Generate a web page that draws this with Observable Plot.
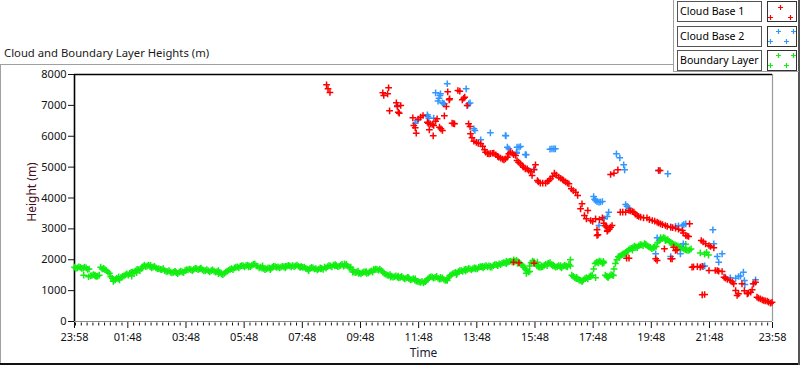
<!DOCTYPE html>
<html><head><meta charset="utf-8">
<script src="https://cdn.jsdelivr.net/npm/d3@7"></script>
<script src="https://cdn.jsdelivr.net/npm/@observablehq/plot@0.6"></script>
<style>
html,body{margin:0;padding:0;background:#fff;}
#wrap{position:relative;width:800px;height:365px;overflow:hidden;font-family:"Noto Sans",sans-serif;background:#fff;}
#wrap svg.plot{position:absolute;left:0;top:0;}
.ln{position:absolute;}
#title{position:absolute;left:4px;top:45px;font-size:11.3px;color:#1a1a1a;white-space:nowrap;}
.lgtext{position:absolute;left:677px;width:85px;height:21px;border:1px solid #555;background:#fff;font-size:10.6px;line-height:19px;padding-left:2px;box-sizing:border-box;color:#000;white-space:nowrap;overflow:hidden;}
.lgsw{position:absolute;left:767px;width:30px;height:21px;}
</style></head>
<body><div id="wrap"></div>
<script>
// ---- Data (time in minutes since 23:58, height in m) ----
const yTicks = [0,1000,2000,3000,4000,5000,6000,7000,8000];
const xTickLabels = ["23:58","01:48","03:48","05:48","07:48","09:48","11:48","13:48","15:48","17:48","19:48","21:48","23:58"];
const seriesNames = ["Cloud Base 1","Cloud Base 2","Boundary Layer"];
const seriesColors = ["#ff0000","#3296ff","#12ee12"];

// Boundary layer: regular 6-minute samples from 23:58
const blStepMin = 6;
const blHeights = [1760,1740,1750,1730,1740,1700,1490,1500,1470,1760,
1720,1650,1560,1400,1350,1380,1430,1480,1540,1560,
1600,1640,1680,1720,1830,1800,1780,1760,1740,1710,
1680,1650,1620,1600,1590,1580,1600,1610,1650,1670,
1680,1690,1710,1700,1670,1650,1640,1650,1630,1620,
1580,1520,1600,1660,1710,1740,1770,1790,1800,1810,
1800,1820,1860,1790,1760,1720,1700,1740,1760,1780,
1770,1760,1770,1790,1800,1810,1800,1790,1780,1760,
1700,1720,1740,1710,1700,1720,1760,1780,1800,1830,
1810,1790,1850,1820,1790,1760,1620,1600,1570,1580,
1600,1570,1640,1670,1690,1700,1600,1530,1490,1470,
1450,1440,1430,1410,1400,1390,1360,1340,1300,1270,
1250,1330,1420,1440,1430,1400,1380,1360,1350,1480,
1540,1590,1620,1650,1670,1680,1700,1710,1730,1750,
1770,1780,1770,1790,1810,1840,1870,1880,1900,1920,
1960,2000,1980,1900,1820,1700,1600,1900,1930,1800,
1760,1780,1850,1880,1840,1790,1780,1770,1790,1800,
1850,1500,1420,1380,1330,1350,1420,1450,1500,1880,
1920,1940,1900,1460,1480,1500,1880,2100,2150,2200,
2280,2350,2390,2420,2450,2480,2520,2450,2400,2380,
2430,2620,2680,2700,2650,2560,2500,2460,2420,2380,
2330,2300,2350];
// Boundary layer: interleaved samples (3 minutes after each of the above)
const blHeights2 = [1720,1770,1720,1760,1690,1480,1520,1460,1500,1700,
1680,1600,1450,1330,1400,1350,1460,1510,1500,1590,
1570,1690,1650,1780,1780,1830,1740,1790,1700,1690,
1710,1620,1650,1570,1620,1550,1630,1580,1680,1700,
1650,1720,1680,1730,1640,1680,1610,1670,1600,1650,
1540,1560,1630,1690,1680,1760,1740,1810,1770,1830,
1780,1850,1800,1740,1730,1680,1730,1710,1790,1750,
1740,1790,1740,1820,1770,1780,1830,1760,1750,1720,
1680,1750,1700,1670,1740,1690,1730,1810,1770,1800,
1780,1820,1790,1850,1740,1680,1580,1630,1540,1610,
1560,1610,1600,1700,1660,1650,1560,1500,1520,1440,
1480,1410,1460,1380,1430,1350,1390,1310,1280,1300,
1290,1380,1450,1400,1460,1370,1410,1330,1420,1510,
1570,1560,1650,1620,1700,1720,1670,1740,1700,1780,
1740,1810,1800,1760,1840,1810,1840,1910,1870,1950,
1930,1960,1940,1860,1760,1650,1800,1960,1870,1770,
1800,1820,1810,1910,1800,1760,1810,1740,1820,1770,
1800,1460,1390,1340,1300,1390,1380,1480,1700,1920,
1960,1880,1500,1430,1520,1700,2000,2120,2180,2240,
2320,2370,2440,2400,2490,2460,2480,2420,2360,2420,
2560,2660,2720,2640,2600,2530,2480,2440,2400,2350,
2310,2320];
// Boundary layer: additional scattered returns
const blExtraTimes = [19,29,43,60,91,80,118,128,157,208,260,297,359,388,404,435,466,483,508,538,557,574,586,602,617,652,668,689,703,724,755,769,788,807,827,842,858,873,891,914,932,939,955,963,976,988,1003,1015,1023,1036,1048,1065,1075,1081,1091,1100,1112,1124,1137,1151,1161,1178,1195,1209,1219,1234,1250,1261,1291,1300,1308,1304];
const blExtraHeights = [1500,1450,1480,1700,1450,1300,1470,1580,1820,1620,1720,1550,1770,1800,1680,1790,1760,1650,1700,1840,1870,1600,1560,1620,1680,1440,1470,1420,1380,1290,1430,1330,1520,1640,1700,1790,1760,1820,1950,1880,1560,1620,1920,1760,1870,1830,1810,1790,2000,1430,1310,1460,1420,1900,1950,1440,1490,2080,2190,2310,2400,2500,2400,2720,2620,2480,2350,2500,2220,2180,2150,2240];

// Cloud base 1
const cb1Times = [520,523,527,636,638,646,648,664,666,673,650,668,670,698,700,703,705,709,714,719,728,730,734,738,741,745,748,732,740,753,756,759,763,770,774,767,773,791,795,800,803,805,810,779,782,784,813,816,817,820,
824,829,833,838,842,846,848,852,855,858,862,865,869,873,875,879,883,886,889,893,896,899,903,906,910,913,916,920,924,926,930,934,937,941,944,948,951,955,957,961,966,972,976,979,982,986,990,994,999,1003,1007,1009,1013,1017,1020,1025,1029,1034,1038,1044,1047,1052,1056,1059,1065,1069,1075,1078,1080,1083,1089,1092,1095,1098,1100,1103,1106,1109,
1106,1113,1121,1126,1131,1137,1144,1147,1151,1154,1157,1161,1164,1168,1174,1181,1186,1192,1197,1202,1205,1209,1213,1219,1223,1230,1234,1240,1246,1254,1256,1261,1264,1267,1269,
1205,1208,1217,1236,1240,1243,1199,1202,1139,1144,1230,1233,906,917,948,1078,1099,
1274,1277,1285,1291,1295,1309,1293,1297,1302,1309,1312,1319,1322,1326,1329,1336,
1340,1343,1347,1353,1357,1360,1364,1367,1370,1377,1382,1388,1390,1395,1398,1401,1405,
1408,1411,1415,1419,1422,1425,1429,1432,1436,1439,1295,1300];
const cb1Heights = [7667,7537,7417,7408,7320,7375,7570,7083,6964,6996,6824,6780,6748,6598,6349,6274,6100,6553,6618,6672,6456,6420,6403,6380,6349,6488,6565,6209,6014,6294,6240,6187,6663,7440,7213,6964,7180,7482,7460,7181,7230,7266,6996,6423,6410,6403,6403,6316,6080,5950,
5840,5800,5770,5755,5680,5560,5484,5440,5430,5440,5450,5452,5400,5350,5322,5290,5260,5237,5270,5322,5430,5484,5452,5400,5377,5215,5160,5108,5053,5000,4946,4946,4891,4850,4729,4913,5075,4567,4520,4481,4481,4481,4540,4567,4622,4700,4803,4740,4675,4640,4600,4567,4520,4480,4460,4298,4240,4189,4081,3650,3812,3434,3326,3595,3272,3240,3326,2970,2808,3300,3359,3184,3100,3055,2948,2990,3055,3110,
4761,4803,4913,3540,3540,3540,3595,3580,3560,3540,3480,3430,3400,3380,3359,3359,3300,3272,3250,3218,3190,3164,3140,3110,3080,3055,3040,3022,2990,2948,2870,2786,2770,2753,3164,
4891,4891,2355,2407,2300,2322,2030,1976,2050,2050,2030,2030,1921,1900,1889,2786,2925,
1760,1770,1780,1760,1790,1652,2624,2580,2515,2462,2430,2386,1652,1652,1630,1620,
1435,1400,1360,1328,1280,1221,1004,842,897,1221,1000,897,920,950,1027,1221,1274,
787,760,735,700,680,670,657,630,593,620,865,875];

// Cloud base 2
const cb2Times = [769,745,755,754,752,750,759,761,763,808,813,811,816,728,729,731,741,703,707,666,824,826,
858,838,890,893,896,917,920,912,932,948,981,889,913,930,912,985,989,992,
1118,1125,1133,1135,1205,1224,1071,1073,1075,1078,1082,1085,1089,1137,1140,1144,1102,1099,1092,1082,
1202,1230,1240,1246,1254,1257,1261,1199,1230,1250,1256,1317,1319,1326,1329,1336,
1343,1353,1364,1370,1374,1380,1382,1383,1400,1405,1297,1300];
const cb2Heights = [7700,7408,7375,7320,7234,7138,7083,7060,7051,7537,7051,6996,7080,6695,6640,6585,6585,6423,6510,6996,6241,6187,
6112,5885,6014,5646,5592,5646,5668,5484,5398,4935,5581,6025,5646,5409,5452,5592,5592,5592,
5430,5302,5075,4913,4891,4783,4049,3960,3919,3880,3865,3870,3887,3790,3730,3670,3540,3400,3326,3110,
2711,3055,3080,3100,3110,3140,3164,2193,2105,2193,2516,2970,2516,2105,1921,2193,
1435,1414,1403,1458,1470,1597,1328,1198,1221,1350,1780,1800];

// ---- Build tables ----
const toMin = s => { const [h,m] = s.split(":").map(Number); return ((h*60+m) - (23*60+58) + 1440) % 1440; };
const majorTicks = xTickLabels.map((s,i) => i === xTickLabels.length-1 ? 1440 : toMin(s));
const labelAt = new Map(majorTicks.map((t,i) => [t, xTickLabels[i]]));
const minorTicks = d3.range(2, 1440, 12).filter(t => !labelAt.has(t));

const blRows = blHeights.map((h,i) => ({t: i*blStepMin, h}))
  .concat(blHeights2.map((h,i) => ({t: i*blStepMin + 3, h})))
  .concat(blExtraHeights.map((h,i) => ({t: blExtraTimes[i], h})));
const cb1Rows = cb1Heights.map((h,i) => ({t: cb1Times[i], h}));
const cb2Rows = cb2Heights.map((h,i) => ({t: cb2Times[i], h}));

const dotOpts = (c) => ({x: "t", y: "h", symbol: "plus", r: 2.3, stroke: c, strokeWidth: 1.5});

const chart = Plot.plot({
  width: 800, height: 365,
  marginLeft: 74, marginRight: 28, marginTop: 74, marginBottom: 44,
  style: {background: "transparent", fontFamily: "'Noto Sans', sans-serif", fontSize: "11px", color: "#111"},
  x: {domain: [0, 1440], axis: null},
  y: {domain: [0, 8000], axis: null},
  marks: [
    Plot.axisY({ticks: yTicks, tickSize: 6, tickPadding: 2, tickFormat: d => String(d), label: null}),
    Plot.axisX({ticks: minorTicks, tickSize: 3, tickFormat: () => "", label: null, dy: 1.5}),
    Plot.axisX({ticks: majorTicks, tickSize: 6, tickPadding: 5, tickFormat: d => labelAt.get(d), label: null, dy: 1}),
    Plot.ruleY([0], {stroke: "#8c8c8c", strokeWidth: 1.2}),
    Plot.ruleX([1440], {stroke: "#9a9a9a", strokeWidth: 1.2}),
    Plot.ruleX([0], {stroke: "#000", strokeWidth: 1.6}),
    Plot.ruleY([8000], {stroke: "#000", strokeWidth: 1.6}),
    Plot.dot(blRows, dotOpts(seriesColors[2])),
    Plot.dot(cb2Rows, dotOpts(seriesColors[1])),
    Plot.dot(cb1Rows, dotOpts(seriesColors[0])),
    Plot.text(["Height (m)"], {frameAnchor: "left", textAnchor: "middle", lineAnchor: "middle", rotate: -90, dx: -42, dy: -6, fill: "#4a0d22", fontSize: 12}),
    Plot.text(["Time"], {frameAnchor: "bottom", textAnchor: "middle", lineAnchor: "middle", dy: 31.5, fill: "#1a1a3a", fontSize: 12})
  ]
});
chart.classList.add("plot");
const wrap = document.getElementById("wrap");
wrap.appendChild(chart);

// ---- Panel decoration, title and legend ----
function line(l,t,w,h,c){const d=document.createElement("div");d.className="ln";Object.assign(d.style,{left:l+"px",top:t+"px",width:w+"px",height:h+"px",background:c});wrap.appendChild(d);}
line(0,64,673,1,"#a0a0a0");   // panel top
line(0,64,1,300,"#a0a0a0");   // panel left
line(0,363,800,2,"#111");     // panel bottom
line(798,0,2,365,"#555");     // panel right
line(673,0,1,72,"#a0a0a0");   // legend left
line(673,71,126,1,"#a0a0a0"); // legend bottom

const title = document.createElement("div");
title.id = "title"; title.textContent = "Cloud and Boundary Layer Heights (m)";
wrap.appendChild(title);

const rowTops = [1, 26, 50];
const crossSets = [
  [[13,6],[3,16],[23,16]],
  [[11,5],[26,5],[3,15],[19,15]],
  [[11,5],[26,5],[3,15],[19,15]]
];
seriesNames.forEach((name, i) => {
  const t = document.createElement("div");
  t.className = "lgtext"; t.style.top = rowTops[i] + "px"; t.textContent = name;
  wrap.appendChild(t);
  const ns = "http://www.w3.org/2000/svg";
  const s = document.createElementNS(ns, "svg");
  s.setAttribute("class", "lgsw"); s.setAttribute("width", 30); s.setAttribute("height", 21);
  s.style.top = rowTops[i] + "px";
  const r = document.createElementNS(ns, "rect");
  r.setAttribute("x", 0.5); r.setAttribute("y", 0.5); r.setAttribute("width", 29); r.setAttribute("height", 20);
  r.setAttribute("fill", "#fff"); r.setAttribute("stroke", "#333");
  s.appendChild(r);
  crossSets[i].forEach(([cx, cy]) => {
    const p = document.createElementNS(ns, "path");
    p.setAttribute("d", `M${cx-2},${cy+0.5}h5M${cx+0.5},${cy-2}v5`);
    p.setAttribute("stroke", seriesColors[i]); p.setAttribute("stroke-width", 1.2);
    s.appendChild(p);
  });
  wrap.appendChild(s);
});
</script></body></html>
